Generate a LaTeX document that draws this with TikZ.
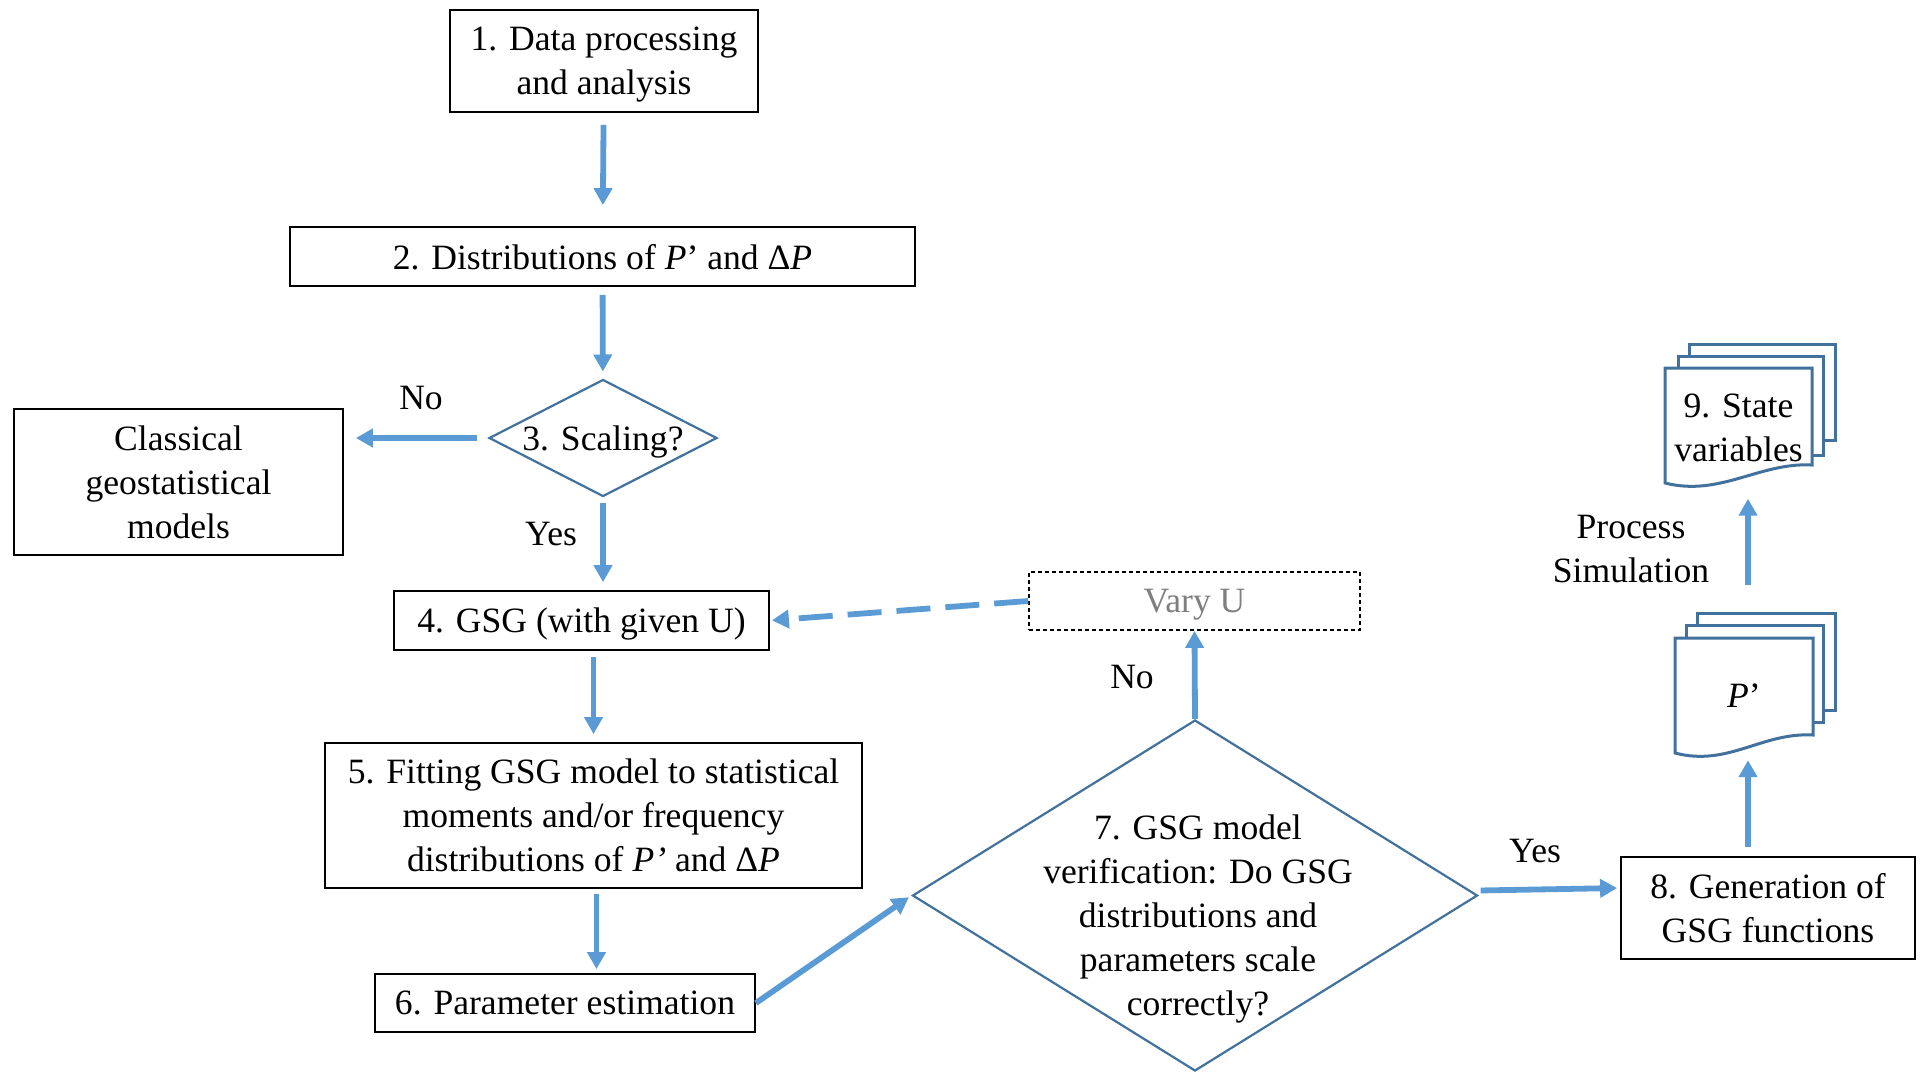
\documentclass[tikz,border=0pt]{standalone}
\usepackage{fontspec}
\setmainfont{Liberation Serif}
\usetikzlibrary{arrows.meta,shapes.geometric,calc}
\definecolor{arrblue}{HTML}{5B9BD5}
\definecolor{shpblue}{HTML}{41719C}
\definecolor{vgray}{HTML}{7F7F7F}
\begin{document}
\begin{tikzpicture}[x=1pt,y=-1pt,
  font=\fontsize{35.6}{44}\selectfont,
  box/.style={draw=black,line width=1.8pt,inner sep=0pt,align=center,fill=white,text depth=-7pt},
  dia/.style={draw=shpblue,line width=2.2pt,diamond,inner sep=0pt,fill=white},
  docpage/.style={draw=shpblue,line width=3pt,fill=white,line join=miter},
  arr/.style={draw=arrblue,line width=5.8pt,-{Triangle[length=17pt,width=18pt]}},
  lbl/.style={inner sep=0pt,align=center}]
\useasboundingbox (0,0) rectangle (1926,1072);
% boxes
\node[box,minimum width=308pt,minimum height=102pt] (b1) at (604,61) {1. Data processing\\and analysis};
\node[box,minimum width=625pt,minimum height=59pt] (b2) at (602.5,256.5) {2. Distributions of \textit{P}’ and Δ\textit{P}};
\node[dia,minimum width=228pt,minimum height=117pt] (d3) at (603,438) {};
\node[lbl] (d3t) at (603,442) {3. Scaling?};
\node[box,minimum width=329pt,minimum height=146pt] (cl) at (178.5,482) {Classical\\geostatistical\\models};
\node[box,minimum width=375pt,minimum height=59pt] (b4) at (581.5,620.5) {4. GSG (with given U)};
\node[box,dash pattern=on 4pt off 3pt,text=vgray,minimum width=331pt,minimum height=58pt] (vu) at (1194.5,601) {Vary U};
\node[box,minimum width=537pt,minimum height=145pt] (b5) at (593.5,815.5) {5. Fitting GSG model to statistical\\moments and/or frequency\\distributions of \textit{P’} and Δ\textit{P}};
\node[box,minimum width=380pt,minimum height=58pt] (b6) at (565,1003) {6. Parameter estimation};
\node[dia,minimum width=565pt,minimum height=351pt] (d7) at (1195,895.5) {};
\node[lbl] (d7t) at (1198,919) {7. GSG model\\verification: Do GSG\\distributions and\\parameters scale\\correctly?};
\node[box,minimum width=294pt,minimum height=102pt] (b8) at (1768,908) {8. Generation of\\GSG functions};
% multidocument 9
\filldraw[docpage] (1689,344) rectangle (1835,440);
\filldraw[docpage] (1678,356) rectangle (1823,455);
\filldraw[docpage] (1665,368) -- (1812,368) -- (1812,465) .. controls (1760,462) and (1720,497) .. (1665,483) -- cycle;
\node[lbl,minimum width=147pt,minimum height=115pt] (doc9) at (1738.5,428) {9. State\\variables};
% multidocument P'
\filldraw[docpage] (1697,613) rectangle (1835,710);
\filldraw[docpage] (1686,625) rectangle (1823,722);
\filldraw[docpage] (1675,638) -- (1813,638) -- (1813,735) .. controls (1762,732) and (1728,767) .. (1675,753) -- cycle;
\node[lbl,minimum width=138pt,minimum height=115pt] (docP) at (1744,695.5) {\textit{P}’};
% connectors
\draw[arr,shorten <=12pt,shorten >=21pt] (b1) -- (b2);
\draw[arr,shorten <=8pt,shorten >=7pt] (b2) -- (d3);
\draw[arr,shorten <=11pt,shorten >=12pt] (d3.west) -- (d3.west -| cl.east);
\draw[arr,shorten <=5pt,shorten >=8pt] (d3.south) -- (d3.south |- b4.north);
\draw[arr,dash pattern=on 34pt off 15pt,shorten >=2pt] (vu.west) -- (b4.east);
\draw[arr,shorten <=6pt,shorten >=8pt] (b5.north |- b4.south) -- (b5.north);
\draw[arr,shorten <=5pt,shorten >=4pt] ([xshift=3pt]b5.south) -- ([xshift=3pt]b5.south |- b6.north);
\draw[arr,shorten >=3pt] (b6.east) -- (d7.west);
\draw[arr] (d7.north) -- (vu.south);
\draw[arr,shorten <=2pt,shorten >=3pt] ([yshift=5pt]d7.east) -- ([yshift=20pt]b8.west);
\draw[arr,shorten <=9pt,shorten >=7pt] ([xshift=4pt]docP.south |- b8.north) -- ([xshift=4pt]docP.south);
\draw[arr,shorten <=53pt,shorten >=13pt] ([xshift=4pt]docP.north) -- ([xshift=4pt]docP.north |- doc9.south);
% labels
\node[lbl] (lno1) at (421,398) {No};
\node[lbl] (lyes1) at (551,534) {Yes};
\node[lbl] (lno2) at (1132,677) {No};
\node[lbl] (lyes2) at (1535,851) {Yes};
\node[lbl] (lps) at (1631,549) {Process\\Simulation};
\end{tikzpicture}
\end{document}
